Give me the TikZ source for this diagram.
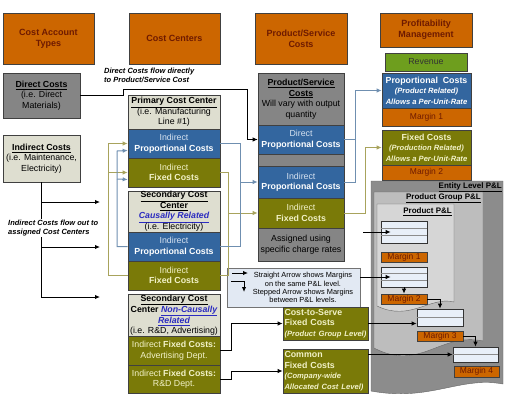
\documentclass[tikz,border=0pt]{standalone}
\usepackage{fontspec}
\setmainfont{Liberation Sans}
\usetikzlibrary{calc,arrows.meta}

\definecolor{hdrorange}{HTML}{CC6600}
\definecolor{hdrtext}{HTML}{6E1A00}
\definecolor{boxgray}{HTML}{858585}
\definecolor{beige}{HTML}{DEDED0}
\definecolor{cblue}{HTML}{33669F}
\definecolor{colive}{HTML}{7A7A08}
\definecolor{litecream}{HTML}{F2F2C8}
\definecolor{paleblue}{HTML}{D6E2F0}
\definecolor{revgreen}{HTML}{6E9E1E}
\definecolor{linkblue}{HTML}{6F8FB0}
\definecolor{linkolive}{HTML}{A8A35C}
\definecolor{legendfill}{HTML}{E2E9F3}
\definecolor{plfill}{HTML}{E8EFF8}
\definecolor{entgray}{HTML}{8C8C8C}
\definecolor{grpgray}{HTML}{BDBDBD}
\definecolor{prdgray}{HTML}{D6D6D6}
\definecolor{relblue}{HTML}{2B2BC0}

\newcommand{\bodyfont}{\fontsize{8.8}{10.5}\selectfont}
\newcommand{\tightfont}{\fontsize{8.8}{9.9}\selectfont}
\newcommand{\headfont}{\fontsize{9}{11}\selectfont\bfseries}
\newcommand{\subfont}{\fontsize{7.6}{9}\selectfont\bfseries\itshape}
\newcommand{\notefont}{\fontsize{7.5}{9}\selectfont\bfseries\itshape}
\newcommand{\legfont}{\fontsize{7.4}{8.3}\selectfont}
\newcommand{\marginfont}{\fontsize{8.5}{9}\selectfont}
\newcommand{\pltitlefont}{\fontsize{8}{9}\selectfont\bfseries}
\newcommand{\relnote}[1]{\textcolor{relblue}{\bfseries\itshape\underline{#1}}}

\begin{document}
\begin{tikzpicture}[x=1pt, y=-1pt,
	box/.style={draw=black!75, line width=0.6pt, inner sep=0pt, align=center, font=\bodyfont},
	header/.style={box, fill=hdrorange, text=hdrtext, font=\headfont, minimum width=91, minimum height=51},
	blueband/.style={box, fill=cblue, text=paleblue, minimum width=92},
	oliveband/.style={box, fill=colive, text=litecream, minimum width=92},
	beigebox/.style={box, fill=beige, text=black, minimum width=92},
	marginbox/.style={box, fill=hdrorange, text=hdrtext, font=\marginfont},
	plbox/.style={box, fill=plfill, draw=black!80, minimum width=46},
	fixgroup/.style={box, fill=colive, text=litecream, minimum width=85, text width=82, align=left},
	note/.style={font=\notefont, align=left, inner sep=1pt},
	arr/.style={-{Latex[length=5pt,width=4.5pt]}, line width=1pt},
	bl/.style={draw=linkblue, line width=1pt},
	ol/.style={draw=linkolive, line width=1pt},
	blarr/.style={bl, -{Latex[length=5pt,width=4.5pt]}},
	olarr/.style={ol, -{Latex[length=5pt,width=4.5pt]}}]

	\useasboundingbox (0,0) rectangle (514,402);

	% Column headers
	\node[header] (acct) at (48.5,38.5) {Cost Account\\Types};
	\node[header] (ctr) at (174.5,38.5) {Cost Centers};
	\node[header, minimum width=92] (psc) at (301,38.5) {Product/Service\\Costs};
	\node[header, minimum width=92, minimum height=34] (prof) at (426,30) {Profitability\\Management};
	\node[box, fill=revgreen, text=black!80, minimum width=82, minimum height=18] (rev) at (426,62) {Revenue};

	% Cost account types
	\node[box, fill=boxgray, minimum width=77, minimum height=45] (direct) at (41.5,95.5)
		{\textbf{\underline{Direct Costs}}\\(i.e. Direct\\Materials)};
	\node[box, fill=beige, minimum width=77, minimum height=47] (indirect) at (41.5,158.5)
		{\textbf{\underline{Indirect Costs}}\\(i.e. Maintenance,\\Electricity)};

	% Cost centers
	\node[beigebox, minimum height=34] (pcc) at (174,112)
		{\textbf{\underline{Primary Cost Center}}\\(i.e. Manufacturing\\Line \#1)};
	\node[blueband, minimum height=29] (pprop) at (174,143.5) {Indirect\\\textcolor{white}{\textbf{Proportional Costs}}};
	\node[oliveband, minimum height=29] (pfix) at (174,172.5) {Indirect\\\textbf{Fixed Costs}};

	\node[beigebox, minimum height=41, font=\tightfont] (scc) at (174,211.5)
		{\textbf{\underline{Secondary Cost}}\\\textbf{\underline{Center}}\\\relnote{Causally Related}\\(i.e. Electricity)};
	\node[blueband, minimum height=29] (sprop) at (174,246.5) {Indirect\\\textcolor{white}{\textbf{Proportional Costs}}};
	\node[oliveband, minimum height=29] (sfix) at (174,275.5) {Indirect\\\textbf{Fixed Costs}};

	\node[beigebox, minimum height=42, font=\tightfont] (ncc) at (174,315)
		{\textbf{\underline{Secondary Cost}}\\\textbf{Center} \relnote{Non-Causally}\\\relnote{Related}\\(i.e. R\&D, Advertising)};
	\node[oliveband, minimum height=29] (adv) at (174,350.5) {Indirect \textbf{Fixed Costs:}\\Advertising Dept.};
	\node[oliveband, minimum height=28] (rnd) at (174,379) {Indirect \textbf{Fixed Costs:}\\R\&D Dept.};

	% Product/Service costs
	\node[box, fill=boxgray, minimum width=86, minimum height=188] (pbg) at (301,167) {};
	\node[font=\bodyfont, align=center, inner sep=0pt] (pshead) at (301,99)
		{\textbf{\underline{Product/Service}}\\\textbf{\underline{Costs}}\\Will vary with output\\quantity};
	\node[blueband, minimum width=86, minimum height=29] (dprop) at (301,139.5) {Direct\\\textcolor{white}{\textbf{Proportional Costs}}};
	\node[blueband, minimum width=86, minimum height=32] (iprop) at (301,182) {Indirect\\\textcolor{white}{\textbf{Proportional Costs}}};
	\node[oliveband, minimum width=86, minimum height=30] (ifix) at (301,213) {Indirect\\\textbf{Fixed Costs}};
	\node[font=\bodyfont, align=center, inner sep=0pt] (charge) at (301,244.5) {Assigned using\\specific charge rates};

	% Profitability management
	\node[blueband, text=white, minimum width=89, minimum height=35] (propc) at (426.5,90.5)
		{\textbf{Proportional~~Costs}\\{\subfont (Product Related)}\\{\subfont Allows a Per-Unit-Rate}};
	\node[marginbox, minimum width=89, minimum height=18] (m1) at (426.5,117) {Margin 1};
	\node[oliveband, text=litecream, minimum width=89, minimum height=35] (fixc) at (426.5,147.5)
		{\textbf{Fixed Costs}\\{\subfont (Production Related)}\\{\subfont Allows a Per-Unit-Rate}};
	\node[marginbox, minimum width=89, minimum height=15] (m2) at (426.5,172.5) {Margin 2};

	% Legend
	\node[box, fill=legendfill, draw=black!55, minimum width=133, minimum height=39] (legend) at (293.5,287.5) {};
	\node[font=\legfont, align=center, inner sep=0pt] (legtext) at (303,287.5)
		{Straight Arrow shows Margins\\on the same P\&L level.\\Stepped Arrow shows Margins\\between P\&L levels.};
	\coordinate (ls1) at (232,273);
	\coordinate (ls2) at (248,273);
	\coordinate (lt1) at (231,281);
	\coordinate (lt2) at (244,292);
	\draw[arr] (ls1) -- (ls2);
	\draw[arr] (lt1) -| (lt2);

	% Fixed cost groups
	\node[fixgroup, minimum height=33] (cts) at (325.5,323.5)
		{\textbf{Cost-to-Serve}\\\textbf{Fixed Costs}\\{\subfont (Product Group Level)}};
	\node[fixgroup, minimum height=44] (common) at (325.5,371)
		{\textbf{Common}\\\textbf{Fixed Costs}\\{\subfont (Company-wide}\\{\subfont Allocated Cost Level)}};

	% P&L levels
	\draw[fill=entgray, draw=black!60] (371,181) -- (503,181) -- (503,384)
		.. controls (460,376) and (430,402) .. (371,391) -- cycle;
	\node[font=\pltitlefont, anchor=east, inner sep=0pt] (enttitle) at (502,187) {\underline{Entity Level P\&L}};
	\draw[fill=grpgray, draw=black!60] (374,192) -- (483,192) -- (483,341)
		.. controls (440,332) and (420,372) .. (374,348) -- cycle;
	\node[font=\pltitlefont, anchor=east, inner sep=0pt] (grptitle) at (481,198) {\underline{Product Group P\&L}};
	\draw[fill=prdgray, draw=black!60] (377,204) -- (454,204) -- (454,302)
		.. controls (430,296) and (410,322) .. (377,306) -- cycle;
	\node[font=\pltitlefont, anchor=east, inner sep=0pt] (prdtitle) at (452,212) {\underline{Product P\&L}};

	\node[plbox, minimum height=22] (b1) at (404,232) {};
	\node[marginbox, minimum width=46, minimum height=10] (mp1) at (404,257) {Margin 1};
	\node[plbox, minimum height=20] (b2) at (404,277) {};
	\node[marginbox, minimum width=46, minimum height=10] (mp2) at (404,299) {Margin 2};
	\node[plbox, minimum height=17] (b3) at (440,317.5) {};
	\node[marginbox, minimum width=46, minimum height=10] (mp3) at (440,336) {Margin 3};
	\node[plbox, minimum width=45, minimum height=15] (b4) at (475.5,354.5) {};
	\node[marginbox, minimum width=45, minimum height=11] (mp4) at (476.5,371.5) {Margin 4};

	% Rows inside the P&L boxes
	\foreach \b in {b1,b2} {
		\draw[black!45] ($(\b.north west)!0.33!(\b.south west)$) -- ($(\b.north east)!0.33!(\b.south east)$);
		\draw[black!45] ($(\b.north west)!0.66!(\b.south west)$) -- ($(\b.north east)!0.66!(\b.south east)$);
	}
	\foreach \b in {b3,b4}
		\draw[black!45] (\b.west) -- (\b.east);

	% Margin arrows
	\coordinate (pin1) at (363,232);
	\draw[arr] (pin1) -- ($(b1.west)+(10,0)$);
	\draw[arr] (legend.east |- b2.west) -- ($(b2.west)+(10,0)$);
	\draw[arr] (b2.south) -- (mp2.north);
	\draw[arr] (mp2.east) -| (b3.north);
	\draw[arr] (cts.east) -- (cts.east -| b3.west);
	\draw[arr] (mp3.east) -| (b4.north);
	\draw[arr] (common.east |- b4.west) -- (b4.west);

	% Direct costs go straight to the product
	\coordinate (dc1) at (123,89);
	\coordinate (dc2) at (247,89);
	\draw[arr, line width=0.8pt] (direct.east) -| (dc1) -- (dc2) |- (dprop.west);
	\node[note, anchor=north west] (dnote) at (103,67) {Direct Costs flow directly\\to Product/Service Cost};

	% Indirect costs go out to the cost centers
	\coordinate (ib1) at (100,202);
	\coordinate (ib2) at (100,247);
	\coordinate (ib3) at (100,297);
	\draw[arr] (indirect.south) |- (ib1);
	\draw[arr] (indirect.south) |- (ib2);
	\draw[arr] (indirect.south) |- (ib3);
	\node[note, fill=white, anchor=north west] (inote) at (7,219) {Indirect Costs flow out to\\assigned Cost Centers};

	% Non-causal costs
	\draw[arr] (adv.east) -- ++(11,0) |- (cts.west);
	\draw[arr] (rnd.east) -- ++(11,0) |- (common.west);

	% Secondary cost center charged on to the primary one
	\draw[olarr] (sfix.west) -| (108,143.5) -- (pprop.west);
	\draw[olarr] (108,172.5) -- (pfix.west);
	\draw[blarr] (sprop.west) -| (117,151) -- ($(pprop.west)+(0,7)$);
	\draw[blarr] (117,179) -- ($(pfix.west)+(0,7)$);

	% Cost centers charged on to the product
	\draw[ol] (pfix.east) -| (228,275.5) -- (sfix.east);
	\draw[olarr] (228,213) -- (ifix.west);
	\draw[blarr] (pprop.east) -| (240,182) -- (iprop.west);
	\draw[bl] (sprop.east) -| (240,182);

	% Product costs into profitability
	\coordinate (pj) at (355,90.5);
	\draw[blarr] (dprop.east) -| (pj) -- (propc.west);
	\draw[bl] (iprop.east) -| (pj);
	\draw[olarr] (ifix.east) -| (365,147.5) -- (fixc.west);

\end{tikzpicture}
\end{document}
